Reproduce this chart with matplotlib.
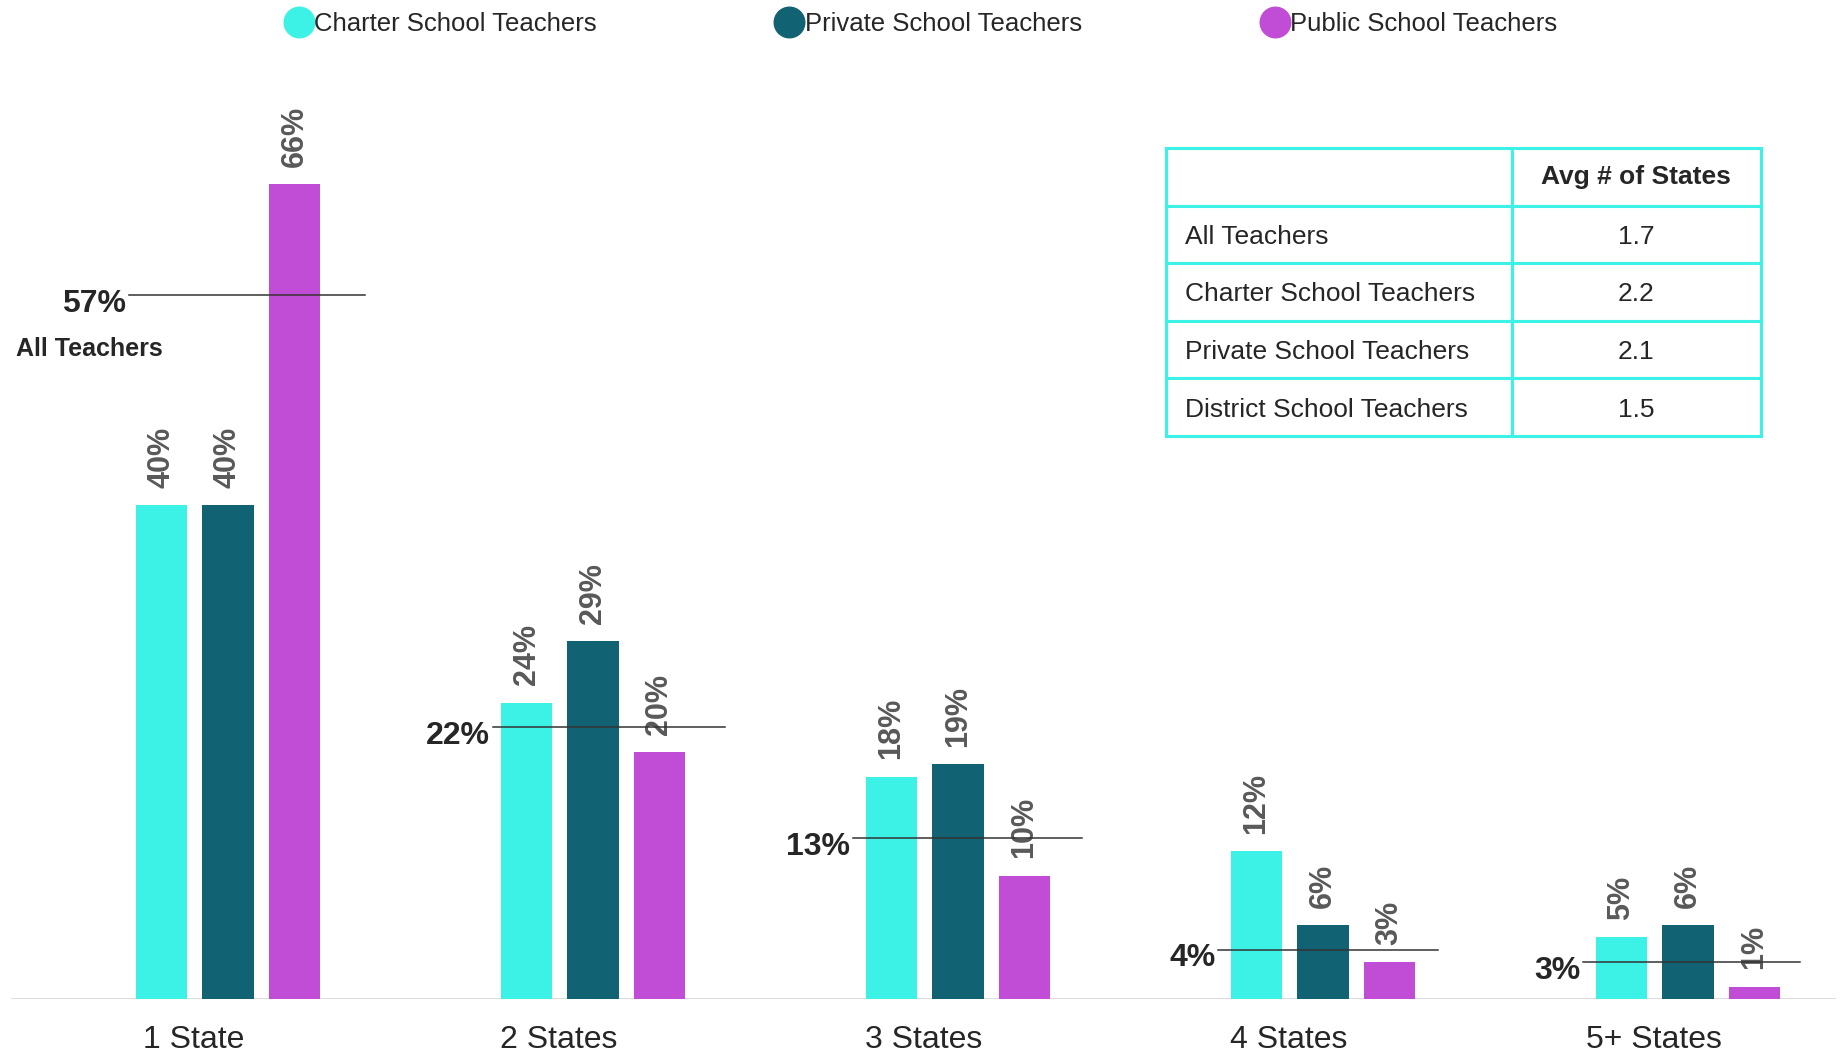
import numpy as np
import matplotlib.pyplot as plt
from matplotlib.lines import Line2D

plt.rcParams['font.family'] = ['Liberation Sans', 'DejaVu Sans']

# data
categories = ['1 State', '2 States', '3 States', '4 States', '5+ States']
series_names = ['Charter School Teachers', 'Private School Teachers', 'Public School Teachers']
charter = [40, 24, 18, 12, 5]
private = [40, 29, 19, 6, 6]
public = [66, 20, 10, 3, 1]
all_teachers = [57, 22, 13, 4, 3]

table_rows = ['All Teachers', 'Charter School Teachers', 'Private School Teachers',
              'District School Teachers']
table_header = 'Avg # of States'
table_vals = ['1.7', '2.2', '2.1', '1.5']

colors = ['#3cf2e6', '#116272', '#c14dd6']
txt_dark = '#262626'
txt_gray = '#595959'

fig = plt.figure(figsize=(18.43, 10.53), dpi=100)
ax = fig.add_axes([0, 54 / 1053, 1, 999 / 1053])

x = np.arange(len(categories))
offsets = [-0.182, 0.0, 0.182]
width = 0.14

for vals, off, c in zip([charter, private, public], offsets, colors):
    bars = ax.bar(x + off, vals, width=width, color=c, zorder=2)
    for b, v in zip(bars, vals):
        ax.text(b.get_x() + b.get_width() / 2, v + 1.4, f'{v}%', rotation=90,
                ha='center', va='bottom', fontsize=22, fontweight='bold',
                color=txt_gray)

# all-teacher reference lines
line_right = [0.374, 0.361, 0.341, 0.316, 0.306]
line_left = [-0.271, -0.274, -0.287, -0.287, -0.287]
for i, v in enumerate(all_teachers):
    ax.plot([x[i] + line_left[i], x[i] + line_right[i]], [v, v], color='#333333',
            lw=1.1, zorder=3)
    ax.text(x[i] + line_left[i] - 0.008, v - 0.7, f'{v}%', ha='right', va='center',
            fontsize=23, fontweight='bold', color=txt_dark)
ax.text(-0.582, all_teachers[0] - 4.4, 'All Teachers', ha='left', va='center',
        fontsize=18, fontweight='bold', color=txt_dark)

# baseline
ax.axhline(0, xmin=12 / 1843, xmax=1834 / 1843, color='#d9d9d9', lw=2, zorder=1)

ax.set_xlim(-228 / 365, (1843 - 228) / 365)
ax.set_ylim(0, 999 / 12.35)
ax.set_xticks(x - 0.093)
ax.set_xticklabels(categories, fontsize=23, color=txt_dark)
ax.tick_params(axis='x', length=0, pad=19)
ax.set_yticks([])
for s in ax.spines.values():
    s.set_visible(False)

# legend
handles = [Line2D([], [], marker='o', ls='', markersize=22, color=c) for c in colors]
fig.legend(handles, series_names, loc='upper center', bbox_to_anchor=(0.5, 1.011),
           ncol=3, frameon=False, fontsize=18.5, handletextpad=0.1, handlelength=1.0,
           columnspacing=7.0, labelcolor=txt_dark)

# table
tax = fig.add_axes([1166 / 1843, 617 / 1053, 595 / 1843, 288 / 1053])
tax.axis('off')
cell_text = [['', table_header]] + [[r, v] for r, v in zip(table_rows, table_vals)]
tbl = tax.table(cellText=cell_text, bbox=[0, 0, 1, 1], colWidths=[0.581, 0.419])
tbl.auto_set_font_size(False)
for (r, c), cell in tbl.get_celld().items():
    cell.set_edgecolor('#3cf2e6')
    cell.set_linewidth(2.2)
    cell.set_text_props(fontsize=19, color=txt_dark)
    if c == 0:
        cell._loc = 'left'
        cell.PAD = 0.055
        cell.get_text().set_ha('left')
    else:
        cell.get_text().set_ha('center')
    if r == 0:
        cell.set_text_props(fontweight='bold')
    else:
        cell.get_text().set_va('center_baseline')

fig.savefig('out.png', dpi=100)
